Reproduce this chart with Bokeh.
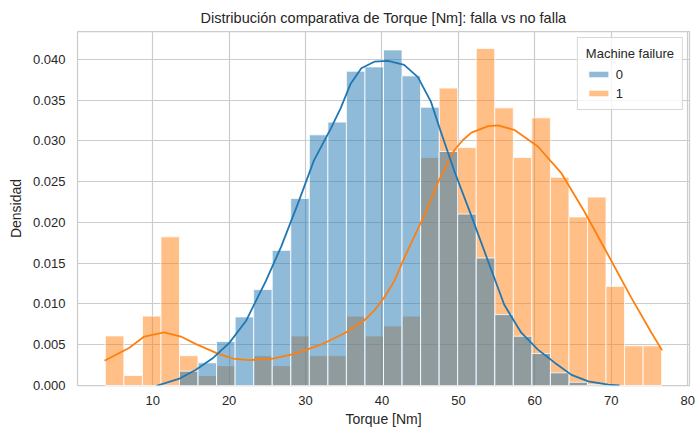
from bokeh.plotting import figure
from bokeh.models import (ColumnDataSource, FixedTicker, NumeralTickFormatter,
                          Legend, LegendItem, Range1d)
from bokeh.embed import file_html
from bokeh.resources import INLINE

# ---- data ----
bin_edges = [3.8, 6.227, 8.653, 11.08, 13.507, 15.933, 18.36, 20.787, 23.213,
             25.64, 28.067, 30.493, 32.92, 35.347, 37.773, 40.2, 42.627, 45.053,
             47.48, 49.907, 52.333, 54.76, 57.187, 59.613, 62.04, 64.467, 66.893,
             69.32, 71.747, 74.173, 76.6]

# Machine failure = 0 (density)
density_0 = [0.0, 0.0, 0.0, 0.0, 0.00176, 0.00278, 0.00539, 0.00841, 0.01176,
             0.01657, 0.02294, 0.03073, 0.03229, 0.03853, 0.03906, 0.04114,
             0.03796, 0.03412, 0.02869, 0.02102, 0.01563, 0.00869, 0.00604,
             0.00392, 0.00155, 0.0004, 0.0001, 0.0, 0.0, 0.0]

# Machine failure = 1 (density)
density_1 = [0.00608, 0.00122, 0.00851, 0.01823, 0.00365, 0.00122, 0.00243, 0.0,
             0.00365, 0.00243, 0.00608, 0.00365, 0.00365, 0.00851, 0.00608,
             0.00729, 0.00851, 0.02796, 0.03647, 0.02917, 0.04133, 0.03404,
             0.02796, 0.03282, 0.02553, 0.02067, 0.02310, 0.01216, 0.00486,
             0.00486]

# KDE curves
kde0_x = [10.6, 13.4, 15.6, 17.8, 20.0, 22.2, 24.8, 26.8, 29.0, 31.1, 33.3, 34.6,
          35.9, 37.3, 39.0, 40.8, 42.9, 44.7, 46.4, 47.7, 49.5, 51.7, 53.9, 56.0,
          58.2, 60.4, 62.6, 64.8, 67.0, 69.6, 71.0]
kde0_y = [0.0, 0.0008, 0.0019, 0.0033, 0.0052, 0.0079, 0.0128, 0.0170, 0.0223,
          0.0276, 0.0315, 0.0340, 0.0370, 0.0389, 0.0397, 0.0398, 0.0393, 0.0378,
          0.0348, 0.0311, 0.0262, 0.0208, 0.0152, 0.0099, 0.0065, 0.0044, 0.0028,
          0.0013, 0.0005, 0.0001, 0.0]

kde1_x = [3.8, 6.9, 8.9, 11.5, 13.7, 15.6, 18.3, 20.5, 22.6, 25.7, 28.7, 32.0,
          35.1, 37.7, 39.0, 40.3, 41.6, 43.0, 44.3, 45.6, 47.3, 48.4, 49.5, 50.6,
          51.7, 53.9, 55.2, 57.4, 60.4, 63.5, 66.5, 69.6, 72.6, 75.3, 76.6]
kde1_y = [0.0031, 0.0046, 0.0060, 0.0065, 0.0060, 0.0051, 0.0040, 0.0033, 0.0031,
          0.0033, 0.0039, 0.0050, 0.0064, 0.0080, 0.0092, 0.0108, 0.0128, 0.0158,
          0.0184, 0.0210, 0.0248, 0.0270, 0.0289, 0.0301, 0.0310, 0.0318, 0.0319,
          0.0313, 0.0293, 0.0260, 0.0213, 0.0160, 0.0108, 0.0064, 0.0044]

x_ticks = [10, 20, 30, 40, 50, 60, 70, 80]
y_ticks = [0.0, 0.005, 0.01, 0.015, 0.02, 0.025, 0.03, 0.035, 0.04]
hue_labels = ["0", "1"]

FONT = "Liberation Sans"
TXT = "#262626"
BLUE = "#1f77b4"
ORANGE = "#ff7f0e"

p = figure(width=695, height=429, output_backend="svg", toolbar_location=None,
           x_range=Range1d(0.16, 80.24), y_range=Range1d(0, 0.0434),
           min_border_left=77, min_border_right=6, min_border_top=31,
           min_border_bottom=43,
           title="Distribución comparativa de Torque [Nm]: falla vs no falla")

p.title.align = "center"
p.title.text_font = FONT
p.title.text_font_size = "14.5px"
p.title.text_font_style = "normal"
p.title.text_color = TXT
p.title.standoff = 12

p.background_fill_color = "white"
p.border_fill_color = "white"
p.outline_line_color = "#cccccc"
p.outline_line_width = 1.25

src1 = ColumnDataSource(dict(left=bin_edges[:-1], right=bin_edges[1:], top=density_1))
src0 = ColumnDataSource(dict(left=bin_edges[:-1], right=bin_edges[1:], top=density_0))

r1 = p.quad(left="left", right="right", bottom=0, top="top", source=src1,
            fill_color=ORANGE, fill_alpha=0.5, line_color="white", line_alpha=0.8,
            line_width=1)
r0 = p.quad(left="left", right="right", bottom=0, top="top", source=src0,
            fill_color=BLUE, fill_alpha=0.5, line_color="white", line_alpha=0.8,
            line_width=1)

p.line(kde1_x, kde1_y, line_color=ORANGE, line_width=1.8, line_join="round",
       line_cap="round")
p.line(kde0_x, kde0_y, line_color=BLUE, line_width=1.8, line_join="round",
       line_cap="round")

for ax in (p.xaxis, p.yaxis):
    ax.axis_line_color = None
    ax.major_tick_line_color = None
    ax.minor_tick_line_color = None
    ax.major_label_text_font = FONT
    ax.major_label_text_font_size = "13px"
    ax.major_label_text_color = TXT
    ax.axis_label_text_font = FONT
    ax.axis_label_text_font_size = "14px"
    ax.axis_label_text_font_style = "normal"
    ax.axis_label_text_color = TXT
    ax.major_tick_out = 0
    ax.major_tick_in = 0

p.xaxis.ticker = FixedTicker(ticks=x_ticks)
p.yaxis.ticker = FixedTicker(ticks=y_ticks)
p.yaxis.formatter = NumeralTickFormatter(format="0.000")
p.xaxis.axis_label = "Torque [Nm]"
p.yaxis.axis_label = "Densidad"
p.xaxis.major_label_standoff = 10
p.yaxis.major_label_standoff = 12
p.xaxis.axis_label_standoff = 3
p.yaxis.axis_label_standoff = 6

p.xgrid.grid_line_color = "#cccccc"
p.ygrid.grid_line_color = "#cccccc"
p.xgrid.grid_line_width = 1.2
p.ygrid.grid_line_width = 1.2

legend = Legend(items=[LegendItem(label=hue_labels[0], renderers=[r0]),
                       LegendItem(label=hue_labels[1], renderers=[r1])],
                location="top_right", margin=6)
legend.title = "Machine failure"
legend.title_text_font = FONT
legend.title_text_font_size = "13px"
legend.title_text_font_style = "normal"
legend.title_text_color = TXT
legend.label_text_font = FONT
legend.label_text_font_size = "13px"
legend.label_text_color = TXT
legend.glyph_width = 25
legend.glyph_height = 8
legend.label_height = 16
legend.spacing = 3
legend.padding = 8
legend.border_line_color = "#cccccc"
legend.border_line_alpha = 0.8
legend.background_fill_alpha = 0.8
p.add_layout(legend)

open("out.html", "w").write(file_html(p, INLINE))
